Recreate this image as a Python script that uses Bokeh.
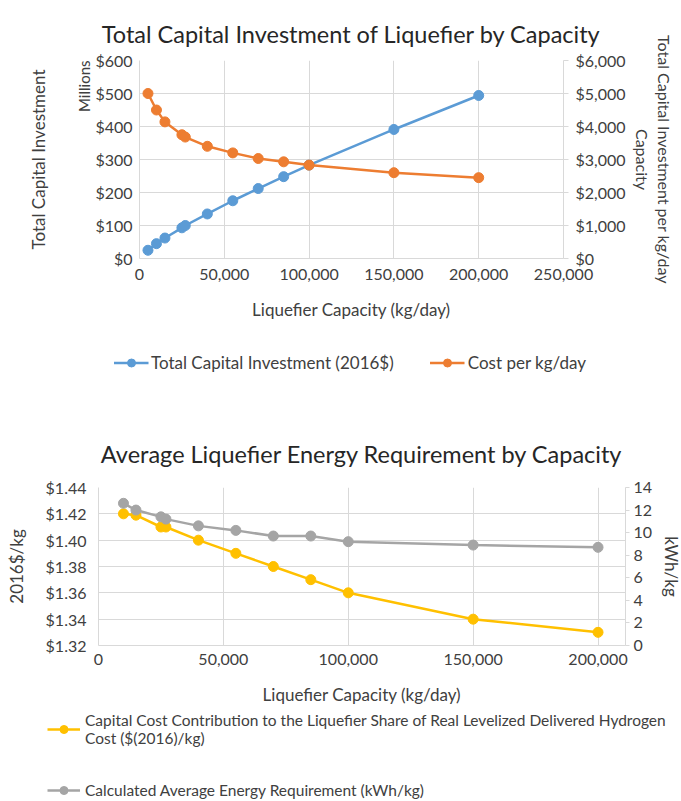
from bokeh.plotting import figure
from bokeh.models import Range1d, LinearAxis, Legend, LegendItem, NumeralTickFormatter, FixedTicker, Title
from bokeh.embed import file_html
from bokeh.resources import INLINE

# ---------------- data ----------------
capacity1 = [5000, 10000, 15000, 25000, 27000, 40000, 55000, 70000, 85000, 100000, 150000, 200000]
total_capital_musd = [25, 45, 62, 93, 100, 135, 175, 212, 248, 283, 391, 494]
cost_per_kgday = [5000, 4500, 4140, 3750, 3680, 3400, 3200, 3030, 2930, 2830, 2600, 2450]

capacity2 = [10000, 15000, 25000, 27000, 40000, 55000, 70000, 85000, 100000, 150000, 200000]
capital_cost_share = [1.42, 1.419, 1.41, 1.41, 1.40, 1.39, 1.38, 1.37, 1.36, 1.34, 1.33]
energy_kwh_per_kg = [12.6, 12.0, 11.4, 11.2, 10.6, 10.2, 9.7, 9.7, 9.2, 8.9, 8.7]

x_ticks1 = [0, 50000, 100000, 150000, 200000, 250000]
x_ticks2 = [0, 50000, 100000, 150000, 200000]

FONT = "Lato"
TXT = "#404040"
GRID = "#D9D9D9"
BLUE = "#5B9BD5"
ORANGE = "#ED7D31"
YELLOW = "#FFC000"
GRAY = "#A5A5A5"


def style_axis(ax, ticks_out=0):
    ax.axis_line_color = GRID
    ax.major_tick_line_color = GRID if ticks_out else None
    ax.major_tick_out = ticks_out
    ax.major_tick_in = 0
    ax.minor_tick_line_color = None
    ax.major_label_text_font = FONT
    ax.major_label_text_font_size = "16px"
    ax.major_label_text_color = TXT
    ax.axis_label_text_font = FONT
    ax.axis_label_text_font_size = "17px"
    ax.axis_label_text_font_style = "normal"
    ax.axis_label_text_color = TXT


def style_title(t, size, color="#262626"):
    t.text_font = FONT
    t.text_font_size = size
    t.text_font_style = "normal"
    t.text_color = color


def legend_figure(height, left):
    # a strip that only holds a legend; its data ranges keep the series out of view
    f = figure(frame_width=681 - left, frame_height=height, output_backend="svg", toolbar_location=None,
               x_axis_location=None, y_axis_location=None, x_range=Range1d(0, 1), y_range=Range1d(-2, -1),
               min_border_left=left, min_border_right=0, min_border_top=0, min_border_bottom=0)
    f.outline_line_color = None
    f.grid.visible = False
    return f


# ---------------- chart 1 ----------------
p1 = figure(frame_width=424, frame_height=198, output_backend="svg", toolbar_location=None,
            x_range=Range1d(0, 250000), y_range=Range1d(0, 600),
            min_border_left=139, min_border_right=118, min_border_top=60, min_border_bottom=72)
p1.outline_line_color = None
p1.title.text = "Total Capital Investment of Liquefier by Capacity"
p1.title.align = "center"
style_title(p1.title, "23.5px")
p1.title.standoff = 26

p1.extra_y_ranges = {"cost": Range1d(0, 6000)}

p1.xaxis.ticker = FixedTicker(ticks=x_ticks1)
p1.xaxis.formatter = NumeralTickFormatter(format="0,0")
p1.xaxis.axis_label = "Liquefier Capacity (kg/day)"
p1.yaxis.ticker = FixedTicker(ticks=[0, 100, 200, 300, 400, 500, 600])
p1.yaxis.formatter = NumeralTickFormatter(format="$0")
for a in p1.xaxis + p1.yaxis:
    style_axis(a)
p1.xaxis.major_label_standoff = 10
p1.yaxis.major_label_standoff = 7
p1.xaxis.axis_label_standoff = 16

t_mil = Title(text="Millions", align="right", standoff=0)
style_title(t_mil, "15px", TXT)
p1.add_layout(t_mil, "left")
t_tci = Title(text="Total Capital Investment", align="center", standoff=48)
style_title(t_tci, "17px", TXT)
p1.add_layout(t_tci, "left")

rax1 = LinearAxis(y_range_name="cost", ticker=FixedTicker(ticks=[0, 1000, 2000, 3000, 4000, 5000, 6000]),
                  formatter=NumeralTickFormatter(format="$0,0"),
                  axis_label="Total Capital Investment per kg/day\nCapacity")
style_axis(rax1, ticks_out=5)
rax1.major_label_standoff = 7
rax1.axis_label_standoff = 4
rax1.axis_label_text_font_size = "16px"
p1.add_layout(rax1, "right")

p1.xgrid.grid_line_color = GRID
p1.ygrid.grid_line_color = GRID

p1.line(capacity1, total_capital_musd, line_color=BLUE, line_width=2.5)
p1.scatter(capacity1, total_capital_musd, size=10, fill_color=BLUE, line_color=BLUE)
p1.line(capacity1, cost_per_kgday, line_color=ORANGE, line_width=2.5, y_range_name="cost")
p1.scatter(capacity1, cost_per_kgday, size=10, fill_color=ORANGE, line_color=ORANGE, y_range_name="cost")

# ---------------- legend 1 (own strip) ----------------
lf1 = legend_figure(64, 18)
k_b1 = lf1.line(capacity1, total_capital_musd, line_color=BLUE, line_width=2.5)
k_b2 = lf1.scatter(capacity1, total_capital_musd, size=10, fill_color=BLUE, line_color=BLUE)
k_o1 = lf1.line(capacity1, cost_per_kgday, line_color=ORANGE, line_width=2.5)
k_o2 = lf1.scatter(capacity1, cost_per_kgday, size=10, fill_color=ORANGE, line_color=ORANGE)
leg1 = Legend(items=[LegendItem(label="Total Capital Investment (2016$)", renderers=[k_b1, k_b2]),
                     LegendItem(label="Cost per kg/day", renderers=[k_o1, k_o2])],
              orientation="horizontal", location="center", border_line_color=None,
              background_fill_alpha=0, label_text_font=FONT, label_text_font_size="17px",
              label_text_color=TXT, glyph_width=35, label_standoff=3, spacing=36, margin=0, padding=4)
lf1.add_layout(leg1, "center")

# ---------------- chart 2 ----------------
p2 = figure(frame_width=527, frame_height=158, output_backend="svg", toolbar_location=None,
            x_range=Range1d(0, 211000), y_range=Range1d(1.32, 1.44),
            min_border_left=98, min_border_right=56, min_border_top=93, min_border_bottom=66)
p2.outline_line_color = None
p2.title.text = "Average Liquefier Energy Requirement by Capacity"
p2.title.align = "center"
style_title(p2.title, "23.5px")
p2.title.standoff = 40
p2.title.offset = -11

p2.extra_y_ranges = {"kwh": Range1d(0, 14)}

p2.xaxis.ticker = FixedTicker(ticks=x_ticks2)
p2.xaxis.formatter = NumeralTickFormatter(format="0,0")
p2.xaxis.axis_label = "Liquefier Capacity (kg/day)"
p2.yaxis.ticker = FixedTicker(ticks=[1.32, 1.34, 1.36, 1.38, 1.40, 1.42, 1.44])
p2.yaxis.formatter = NumeralTickFormatter(format="$0.00")
p2.yaxis.axis_label = "2016$/kg"
for a in p2.xaxis + p2.yaxis:
    style_axis(a)
p2.xaxis.major_label_standoff = 8
p2.yaxis.major_label_standoff = 12
p2.yaxis.axis_label_standoff = 16
p2.xaxis.axis_label_standoff = 16

rax2 = LinearAxis(y_range_name="kwh", ticker=FixedTicker(ticks=[0, 2, 4, 6, 8, 10, 12, 14]),
                  formatter=NumeralTickFormatter(format="0"), axis_label="kWh/kg")
style_axis(rax2, ticks_out=4)
rax2.major_label_standoff = 4
rax2.axis_label_standoff = 6
p2.add_layout(rax2, "right")

p2.xgrid.grid_line_color = GRID
p2.ygrid.grid_line_color = GRID

p2.line(capacity2, capital_cost_share, line_color=YELLOW, line_width=2.5)
p2.scatter(capacity2, capital_cost_share, size=10, fill_color=YELLOW, line_color=YELLOW)
p2.line(capacity2, energy_kwh_per_kg, line_color=GRAY, line_width=2.5, y_range_name="kwh")
p2.scatter(capacity2, energy_kwh_per_kg, size=10, fill_color=GRAY, line_color=GRAY, y_range_name="kwh")

# ---------------- legend 2 (own strip) ----------------
lf2 = legend_figure(90, 47)
k_y1 = lf2.line(capacity2, capital_cost_share, line_color=YELLOW, line_width=2.5)
k_y2 = lf2.scatter(capacity2, capital_cost_share, size=10, fill_color=YELLOW, line_color=YELLOW)
k_g1 = lf2.line(capacity2, energy_kwh_per_kg, line_color=GRAY, line_width=2.5)
k_g2 = lf2.scatter(capacity2, energy_kwh_per_kg, size=10, fill_color=GRAY, line_color=GRAY)
leg2 = Legend(items=[LegendItem(label="Capital Cost Contribution to the Liquefier Share of Real Levelized Delivered Hydrogen\nCost ($(2016)/kg)",
                                renderers=[k_y1, k_y2]),
                     LegendItem(label="Calculated Average Energy Requirement (kWh/kg)", renderers=[k_g1, k_g2])],
              orientation="vertical", location="top_left", border_line_color=None,
              background_fill_alpha=0, label_text_font=FONT, label_text_font_size="15.5px",
              label_text_color=TXT, glyph_width=33, label_standoff=5, spacing=33, margin=0, padding=0)
lf2.add_layout(leg2, "center")

open("out.html", "w").write(file_html([p1, lf1, p2, lf2], INLINE))
